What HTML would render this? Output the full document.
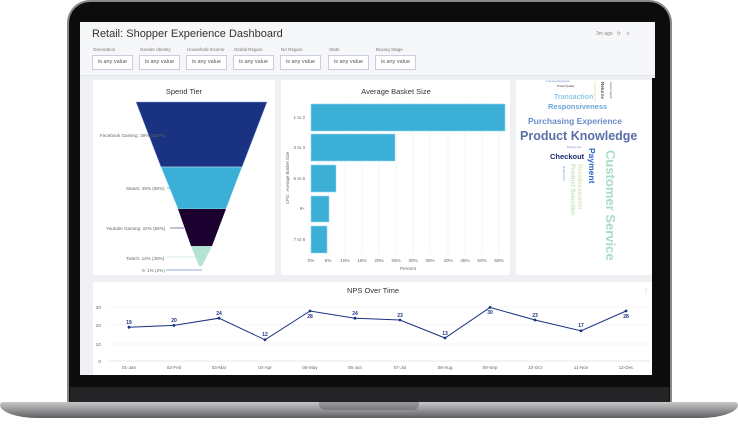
<!DOCTYPE html>
<html><head><meta charset="utf-8"><style>
*{margin:0;padding:0;box-sizing:border-box}
body{width:738px;height:425px;background:#fff;position:relative;overflow:hidden;font-family:"Liberation Sans",sans-serif}
.abs{position:absolute}
</style></head><body>
<!-- laptop lid -->
<div class="abs" style="left:67px;top:0px;width:605px;height:405px;background:#8a8a8c;border-radius:23px 23px 4px 4px;"></div>
<div class="abs" style="left:69px;top:2px;width:601px;height:402px;background:#0c0c0d;border-radius:21px 21px 3px 3px;"></div>
<div class="abs" style="left:70px;top:387px;width:599px;height:16px;background:#242426;"></div>
<!-- base -->
<div class="abs" style="left:0;top:402px;width:738px;height:16px;background:linear-gradient(#c8c8ca,#9a9a9c 45%,#5e5e60);border-radius:3px 3px 40px 40px / 3px 3px 14px 14px;"></div>
<div class="abs" style="left:319px;top:402px;width:100px;height:8px;background:linear-gradient(#9b9b9d,#78787a);border-radius:0 0 6px 6px;"></div>
<!-- screen -->
<div class="abs" style="left:80px;top:22px;width:575px;height:353px;background:#eef0f3;overflow:hidden">
 <div class="abs" style="left:0;top:0;width:575px;height:54px;background:#f6f7f9;border-bottom:1px solid #e3e5e8"></div>
 <div class="abs" style="left:12px;top:6px;font-size:11px;color:#333">Retail: Shopper Experience Dashboard</div>
 <div class="abs" style="left:516px;top:9px;font-size:5px;color:#888">3m ago &nbsp;&nbsp;⟳ &nbsp;&nbsp;&nbsp;≡</div>
 <div class="abs" style="left:13px;top:25px;font-size:4.5px;color:#777;width:600px">
  <span class="abs" style="left:0">Generation</span><span class="abs" style="left:47px">Gender Identity</span><span class="abs" style="left:94px">Household Income</span><span class="abs" style="left:141px">Global Region</span><span class="abs" style="left:188px">NA Region</span><span class="abs" style="left:236px">State</span><span class="abs" style="left:283px">Buying Stage</span>
 </div>
 <div class="abs" style="left:12px;top:33px;">
  <div class="abs" style="left:0;width:41px;height:15px;border:1px solid #ccd;background:#fff;font-size:5.5px;color:#555;text-align:center;line-height:13px">is any value</div>
  <div class="abs" style="left:47px;width:41px;height:15px;border:1px solid #ccd;background:#fff;font-size:5.5px;color:#555;text-align:center;line-height:13px">is any value</div>
  <div class="abs" style="left:94px;width:41px;height:15px;border:1px solid #ccd;background:#fff;font-size:5.5px;color:#555;text-align:center;line-height:13px">is any value</div>
  <div class="abs" style="left:141px;width:41px;height:15px;border:1px solid #ccd;background:#fff;font-size:5.5px;color:#555;text-align:center;line-height:13px">is any value</div>
  <div class="abs" style="left:188px;width:41px;height:15px;border:1px solid #ccd;background:#fff;font-size:5.5px;color:#555;text-align:center;line-height:13px">is any value</div>
  <div class="abs" style="left:236px;width:41px;height:15px;border:1px solid #ccd;background:#fff;font-size:5.5px;color:#555;text-align:center;line-height:13px">is any value</div>
  <div class="abs" style="left:283px;width:41px;height:15px;border:1px solid #ccd;background:#fff;font-size:5.5px;color:#555;text-align:center;line-height:13px">is any value</div>
 </div>
 <!-- panels -->
 <div class="abs" style="left:13px;top:58px;width:182px;height:195px;background:#fff;border-radius:2px"></div>
 <div class="abs" style="left:201px;top:58px;width:229px;height:195px;background:#fff;border-radius:2px"></div>
 <div class="abs" style="left:436px;top:58px;width:136px;height:195px;background:#fff;border-radius:2px"></div>
 <div class="abs" style="left:13px;top:260px;width:560px;height:100px;background:#fff;border-radius:2px"></div>
 <div class="abs" style="left:572px;top:56px;width:3px;height:297px;background:#0c0c0d"></div>
</div>
<svg class="abs" style="left:0;top:0" width="738" height="425" font-family="Liberation Sans, sans-serif">
 <!-- Spend tier -->
 <text x="184" y="94" font-size="7.5" fill="#333" text-anchor="middle">Spend Tier</text>
 <polygon points="136,102 267,102 242,167 161,167" fill="#1a3282" stroke="#8fa4e0" stroke-width="0.5"/>
 <polygon points="161,167 242,167 226,209 178,209" fill="#3cafd6" stroke="#d0eef8" stroke-width="0.5"/>
 <polygon points="178,209 226,209 212,246 191,246" fill="#1c0030"/>
 <polygon points="191,246 212,246 202,266 199,266" fill="#b3e3d4"/>
 <g font-size="4.6" fill="#666">
  <text x="100" y="137">Facebook Gaming: 39% (100%)</text>
  <text x="126" y="190">Steam: 25% (66%)</text>
  <text x="106" y="230">Youtube Gaming: 22% (56%)</text>
  <text x="126" y="260">Twitch: 14% (35%)</text>
  <text x="142" y="272">0: 1% (2%)</text>
 </g>
 <line x1="167" y1="188" x2="171" y2="188" stroke="#3cafd6" stroke-width="0.8"/>
 <line x1="170" y1="228" x2="184" y2="228" stroke="#8a7aa0" stroke-width="1"/>
 <line x1="167" y1="257" x2="195" y2="257" stroke="#b3e3d4" stroke-width="0.6"/>
 <line x1="166" y1="270" x2="202" y2="270" stroke="#6a8cc8" stroke-width="0.8"/>
 <!-- basket -->
 <text x="396" y="94" font-size="7.5" fill="#333" text-anchor="middle">Average Basket Size</text>
 <g stroke="#eceef0" stroke-width="0.6">
  <line x1="328" y1="102" x2="328" y2="255"/><line x1="345" y1="102" x2="345" y2="255"/><line x1="362" y1="102" x2="362" y2="255"/><line x1="379" y1="102" x2="379" y2="255"/><line x1="396" y1="102" x2="396" y2="255"/><line x1="413" y1="102" x2="413" y2="255"/><line x1="430" y1="102" x2="430" y2="255"/><line x1="448" y1="102" x2="448" y2="255"/><line x1="465" y1="102" x2="465" y2="255"/><line x1="482" y1="102" x2="482" y2="255"/><line x1="499" y1="102" x2="499" y2="255"/>
 </g>
 <g fill="#3cafd6" stroke="#9ad8ee" stroke-width="0.6">
  <rect x="311" y="104" width="194" height="27"/>
  <rect x="311" y="134" width="84" height="27"/>
  <rect x="311" y="165" width="25" height="27"/>
  <rect x="311" y="196" width="18" height="26"/>
  <rect x="311" y="226" width="16" height="27"/>
 </g>
 <g font-size="4.6" fill="#666" text-anchor="end">
  <text x="305" y="119">1 to 2</text><text x="305" y="149">3 to 4</text><text x="305" y="180">5 to 6</text><text x="305" y="210">9+</text><text x="305" y="241">7 to 8</text>
 </g>
 <text transform="translate(289,178) rotate(-90)" font-size="4.3" fill="#666" text-anchor="middle">CPG : Average Basket Size</text>
 <g font-size="4.6" fill="#666" text-anchor="middle">
  <text x="311" y="262">0%</text><text x="328" y="262">5%</text><text x="345" y="262">10%</text><text x="362" y="262">15%</text><text x="379" y="262">20%</text><text x="396" y="262">25%</text><text x="413" y="262">30%</text><text x="430" y="262">35%</text><text x="448" y="262">40%</text><text x="465" y="262">45%</text><text x="482" y="262">50%</text><text x="499" y="262">55%</text>
  <text x="408" y="270">Percent</text>
 </g>
 <!-- word cloud -->
 <g font-weight="bold">
  <text x="546" y="82" font-size="2.5" fill="#6a8cc8" font-weight="normal">In-person Experience</text>
  <text x="557" y="87" font-size="2.5" fill="#333" font-weight="normal">Product Quality</text>
  <text x="554" y="99" font-size="7" fill="#8ec8e6">Transaction</text>
  <text x="548" y="109" font-size="7.5" fill="#6aa6d6">Responsiveness</text>
  <text x="528" y="124" font-size="8.5" fill="#6a8cc8">Purchasing Experience</text>
  <text x="520" y="140" font-size="12.5" fill="#5a6fa8">Product Knowledge</text>
  <text x="550" y="159" font-size="7.5" fill="#1a2a70">Checkout</text>
  <text transform="translate(589,148) rotate(90)" font-size="8.5" fill="#2a64c8">Payment</text>
  <text transform="translate(606,150) rotate(90)" font-size="13" fill="#a8dcc8">Customer Service</text>
  <text transform="translate(571,164) rotate(90)" font-size="6" fill="#c8e4c0">Product Selection</text>
  <text transform="translate(578,164) rotate(90)" font-size="6" fill="#e0e8b8">Reimbursement</text>
  <text transform="translate(601,82) rotate(90)" font-size="4.5" fill="#555">Returns</text>
  <text transform="translate(594,82) rotate(90)" font-size="3" fill="#dde8b0">Sustainability</text>
  <text transform="translate(610,82) rotate(90)" font-size="2.5" fill="#555" font-weight="normal">Service Speed</text>
  <text x="567" y="148" font-size="2.5" fill="#6a8cc8" font-weight="normal">Delivery time</text>
  <text transform="translate(563,166) rotate(90)" font-size="2.5" fill="#6a8cc8" font-weight="normal">Product Price</text>
 </g>
 <!-- NPS -->
 <text x="373" y="293" font-size="7.5" fill="#333" text-anchor="middle">NPS Over Time</text>
 <text x="643" y="293" font-size="6" fill="#999">⋮</text>
 <g stroke="#eceef0" stroke-width="0.6">
  <line x1="108" y1="307" x2="650" y2="307"/><line x1="108" y1="325" x2="650" y2="325"/><line x1="108" y1="344" x2="650" y2="344"/>
 </g>
 <line x1="108" y1="361" x2="650" y2="361" stroke="#d8e4f0" stroke-width="0.8"/>
 <g font-size="4.8" fill="#666" text-anchor="end">
  <text x="101" y="309">30</text><text x="101" y="327">20</text><text x="101" y="346">10</text><text x="101" y="363">0</text>
 </g>
 <polyline fill="none" stroke="#1a3282" stroke-width="1" points="129,327.2 174,325.4 219,318.2 265,339.8 310,311 355,318.2 400,320 445,338 490,307.4 535,320 581,330.8 626,311"/>
 <g fill="#1a3282">
  <circle cx="129" cy="327.2" r="1.4"/><circle cx="174" cy="325.4" r="1.4"/><circle cx="219" cy="318.2" r="1.4"/><circle cx="265" cy="339.8" r="1.4"/><circle cx="310" cy="311" r="1.4"/><circle cx="355" cy="318.2" r="1.4"/><circle cx="400" cy="320" r="1.4"/><circle cx="445" cy="338" r="1.4"/><circle cx="490" cy="307.4" r="1.4"/><circle cx="535" cy="320" r="1.4"/><circle cx="581" cy="330.8" r="1.4"/><circle cx="626" cy="311" r="1.4"/>
 </g>
 <g font-size="5" fill="#1a3282" font-weight="bold" text-anchor="middle">
  <text x="129" y="324">19</text><text x="174" y="322">20</text><text x="219" y="315">24</text><text x="265" y="336">12</text><text x="310" y="318">28</text><text x="355" y="315">24</text><text x="400" y="317">23</text><text x="445" y="335">13</text><text x="490" y="314">30</text><text x="535" y="317">23</text><text x="581" y="327">17</text><text x="626" y="318">28</text>
 </g>
 <g font-size="4.6" fill="#666" text-anchor="middle">
  <text x="129" y="369">01-Jan</text><text x="174" y="369">02-Feb</text><text x="219" y="369">03-Mar</text><text x="265" y="369">04-Apr</text><text x="310" y="369">05-May</text><text x="355" y="369">06-Jun</text><text x="400" y="369">07-Jul</text><text x="445" y="369">08-Aug</text><text x="490" y="369">09-Sep</text><text x="535" y="369">10-Oct</text><text x="581" y="369">11-Nov</text><text x="626" y="369">12-Dec</text>
 </g>
</svg>
</body></html>
